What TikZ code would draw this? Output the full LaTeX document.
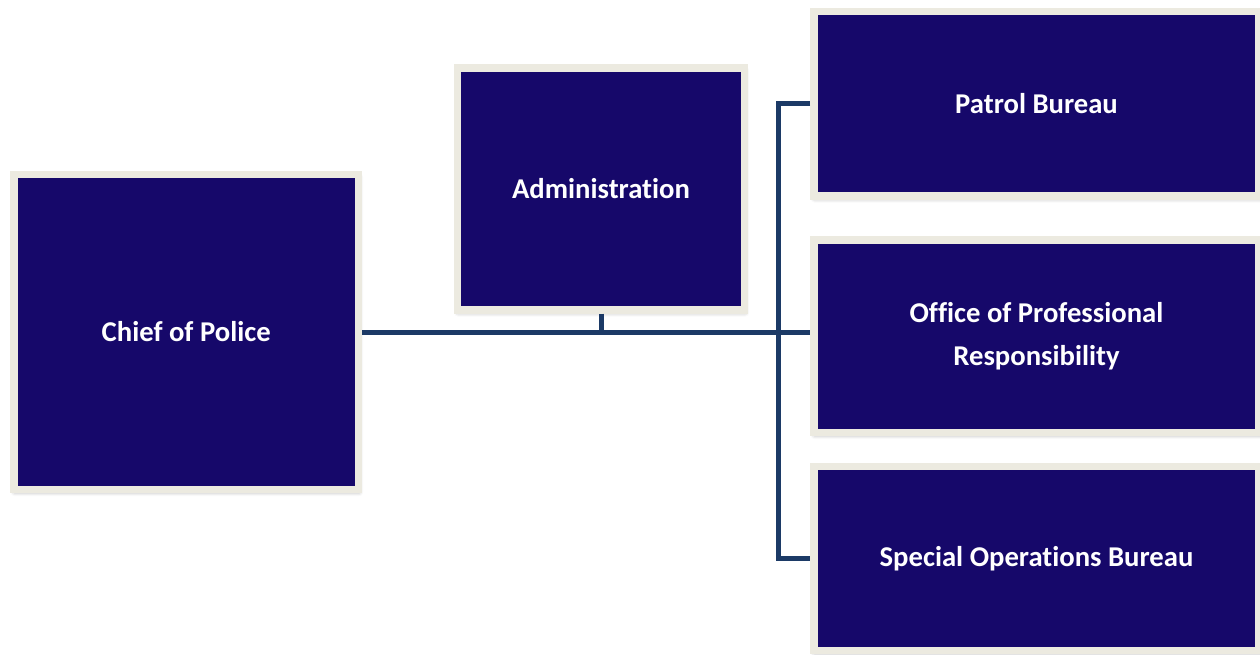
\documentclass[tikz,border=0pt]{standalone}
\usepackage{fontspec}
\setmainfont{Carlito}[Ligatures=NoCommon]
\usepackage{tikz}
\usetikzlibrary{positioning,shadows.blur}
\definecolor{navy}{RGB}{22,8,106}
\definecolor{cream}{RGB}{236,234,224}
\definecolor{linkblue}{RGB}{28,58,102}
\tikzset{
  unit/.style={draw=cream,fill=navy,line width=5.6pt,inner sep=0pt,
    text=white,align=center,font=\fontsize{21.5}{32}\selectfont\bfseries,
    blur shadow={shadow xshift=0.5pt,shadow yshift=-2pt,shadow blur radius=3pt,shadow opacity=35}},
  link/.style={draw=linkblue,line width=3.75pt}
}

\begin{document}
\begin{tikzpicture}[x=0.75pt,y=-0.75pt]
  \path[use as bounding box,clip] (0,0) rectangle (1260,654);

  %Boxes
  \node[unit,minimum width=258.4pt,minimum height=236.3pt] (chief) at (186.25,332) {Chief of Police};
  \node[unit,minimum width=215.3pt,minimum height=181.5pt] (admin) at (601,189) {Administration};
  \node[unit,minimum width=333.8pt,minimum height=138.4pt] (patrol) at (1036.5,103.75) {Patrol Bureau};
  \node[unit,minimum width=333.8pt,minimum height=144.4pt] (opr) at (1036.5,336.25) {Office of Professional\\Responsibility};
  \node[unit,minimum width=333.8pt,minimum height=138pt] (sob) at (1036.5,558.5) {Special Operations Bureau};

  %Lines
  \coordinate (bus) at (778.5,332);
  \draw[link] (chief.east) -- (chief.east -| opr.west);
  \draw[link] (admin.south) -- (admin.south |- chief.east);
  \draw[link] (patrol.west) -| (bus) |- (sob.west);
\end{tikzpicture}
\end{document}
